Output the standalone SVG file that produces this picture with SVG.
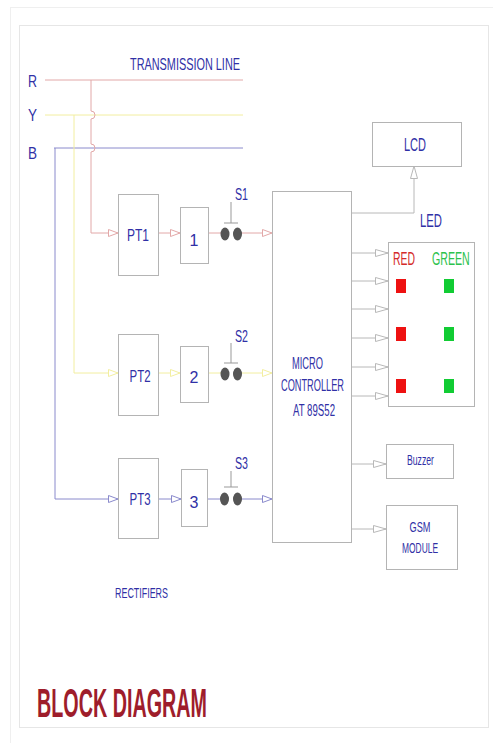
<svg xmlns="http://www.w3.org/2000/svg" width="493" height="743" viewBox="0 0 493 743">
<defs>
<style>
text{font-family:"Liberation Sans",Arial,sans-serif;fill:#3030a6}
.box{fill:#fff;stroke:#b4b4b4;stroke-width:1}
.r{stroke:#e2a8a8;fill:none;stroke-width:1}
.y{stroke:#f2eea0;fill:none;stroke-width:1}
.b{stroke:#8a8acc;fill:none;stroke-width:1}
.g{stroke:#b8b8b8;fill:none;stroke-width:1}
.dot{fill:#555}
.sw{stroke:#999;fill:none;stroke-width:1}
</style>
<marker id="ar" markerUnits="userSpaceOnUse" markerWidth="12" markerHeight="9" refX="10" refY="4" orient="auto"><path d="M0.5,0.5 L10,4 L0.5,7.5 Z" fill="#fff" stroke="#e2a8a8"/></marker>
<marker id="ay" markerUnits="userSpaceOnUse" markerWidth="12" markerHeight="9" refX="10" refY="4" orient="auto"><path d="M0.5,0.5 L10,4 L0.5,7.5 Z" fill="#fff" stroke="#f2eea0"/></marker>
<marker id="ab" markerUnits="userSpaceOnUse" markerWidth="12" markerHeight="9" refX="10" refY="4" orient="auto"><path d="M0.5,0.5 L10,4 L0.5,7.5 Z" fill="#fff" stroke="#8a8acc"/></marker>
<marker id="ag" markerUnits="userSpaceOnUse" markerWidth="14" markerHeight="9" refX="13" refY="4" orient="auto"><path d="M0.5,0.5 L13,4 L0.5,7.5 Z" fill="#fff" stroke="#b8b8b8"/></marker>
</defs>
<rect width="493" height="743" fill="#fff"/>
<rect x="10.5" y="7.5" width="500" height="760" fill="none" stroke="#efefef"/>
<rect x="19.5" y="25.5" width="469" height="702" fill="#fff" stroke="#e6e6e6"/>

<g id="labels">
<text x="130" y="70" font-size="17" textLength="110" lengthAdjust="spacingAndGlyphs">TRANSMISSION LINE</text>
<text x="28" y="87" font-size="16" textLength="9" lengthAdjust="spacingAndGlyphs">R</text>
<text x="28" y="121" font-size="16" textLength="9" lengthAdjust="spacingAndGlyphs">Y</text>
<text x="28" y="159" font-size="16" textLength="9" lengthAdjust="spacingAndGlyphs">B</text>
<text x="115" y="598" font-size="14" textLength="53" lengthAdjust="spacingAndGlyphs">RECTIFIERS</text>
<text x="37" y="717" font-size="40" font-weight="bold" style="fill:#9e1d2b" textLength="170" lengthAdjust="spacingAndGlyphs">BLOCK DIAGRAM</text>
<text x="420" y="227" font-size="19" textLength="22" lengthAdjust="spacingAndGlyphs">LED</text>
</g>

<g id="connectors">
<path class="r" d="M45,80 H243"/>
<path class="y" d="M45,115 H243"/>
<path class="b" d="M54,148 H243"/>
<path class="r" d="M91,80 V111 A4,4 0 0 1 91,119 V144 A4,4 0 0 1 91,152 V233 H118" marker-end="url(#ar)"/>
<path class="y" d="M74,115 V373 H118" marker-end="url(#ay)"/>
<path class="b" d="M55,148 V499 H118" marker-end="url(#ab)"/>
<path class="r" d="M158,233 H180" marker-end="url(#ar)"/>
<path class="y" d="M158,373 H180" marker-end="url(#ay)"/>
<path class="b" d="M158,499 H181" marker-end="url(#ab)"/>
<path class="r" d="M208,233 H221"/>
<path class="y" d="M208,373 H221"/>
<path class="b" d="M207,499 H221"/>
<path class="r" d="M241,233 H272" marker-end="url(#ar)"/>
<path class="y" d="M241,373 H272" marker-end="url(#ay)"/>
<path class="b" d="M241,499 H272" marker-end="url(#ab)"/>
<path class="g" d="M351,213 H414 V166" marker-end="url(#ag)"/>
<path class="g" d="M351,253 H388" marker-end="url(#ag)"/>
<path class="g" d="M351,281 H388" marker-end="url(#ag)"/>
<path class="g" d="M351,309 H388" marker-end="url(#ag)"/>
<path class="g" d="M351,338 H388" marker-end="url(#ag)"/>
<path class="g" d="M351,367 H388" marker-end="url(#ag)"/>
<path class="g" d="M351,396 H388" marker-end="url(#ag)"/>
<path class="g" d="M351,464 H386" marker-end="url(#ag)"/>
<path class="g" d="M351,529 H386" marker-end="url(#ag)"/>
</g>

<g id="pt1"><rect class="box" x="118.5" y="194.5" width="40" height="81"/><text x="138" y="241" font-size="16" text-anchor="middle" textLength="22" lengthAdjust="spacingAndGlyphs">PT1</text></g>
<g id="pt2"><rect class="box" x="118.5" y="334.5" width="40" height="81"/><text x="140" y="382" font-size="16" text-anchor="middle" textLength="21" lengthAdjust="spacingAndGlyphs">PT2</text></g>
<g id="pt3"><rect class="box" x="118.5" y="458.5" width="40" height="80"/><text x="140" y="505" font-size="16" text-anchor="middle" textLength="21" lengthAdjust="spacingAndGlyphs">PT3</text></g>

<g id="rect1"><rect class="box" x="180.5" y="207.5" width="28" height="56"/><text x="194" y="246" font-size="16" text-anchor="middle">1</text></g>
<g id="rect2"><rect class="box" x="180.5" y="346.5" width="28" height="56"/><text x="194" y="383" font-size="16" text-anchor="middle">2</text></g>
<g id="rect3"><rect class="box" x="181.5" y="469.5" width="26" height="57"/><text x="194" y="508" font-size="16" text-anchor="middle">3</text></g>

<g id="s1"><path class="sw" d="M231,202 V223 M224,223 H238"/><ellipse class="dot" cx="225" cy="234" rx="4.5" ry="6.5"/><ellipse class="dot" cx="237.5" cy="234" rx="4.5" ry="6.5"/><text x="235" y="200" font-size="16" textLength="13" lengthAdjust="spacingAndGlyphs">S1</text></g>
<g id="s2"><path class="sw" d="M231,343 V363 M224,363 H238"/><ellipse class="dot" cx="225" cy="374" rx="4.5" ry="6.5"/><ellipse class="dot" cx="237.5" cy="374" rx="4.5" ry="6.5"/><text x="235" y="342" font-size="16" textLength="13" lengthAdjust="spacingAndGlyphs">S2</text></g>
<g id="s3"><path class="sw" d="M231,471 V487 M224,487 H238"/><ellipse class="dot" cx="224.5" cy="499" rx="4.5" ry="6.5"/><ellipse class="dot" cx="237.5" cy="499" rx="4.5" ry="6.5"/><text x="235" y="469" font-size="16" textLength="13" lengthAdjust="spacingAndGlyphs">S3</text></g>

<g id="mcu"><rect class="box" x="272.5" y="191.5" width="79" height="351"/>
<text x="307.5" y="369" font-size="16" text-anchor="middle" textLength="31" lengthAdjust="spacingAndGlyphs">MICRO</text>
<text x="312.5" y="391" font-size="16" text-anchor="middle" textLength="63" lengthAdjust="spacingAndGlyphs">CONTROLLER</text>
<text x="314" y="416" font-size="16" text-anchor="middle" textLength="42" lengthAdjust="spacingAndGlyphs">AT 89S52</text></g>

<g id="lcd"><rect class="box" x="372.5" y="122.5" width="89" height="44"/><text x="415" y="151" font-size="19" text-anchor="middle" textLength="22" lengthAdjust="spacingAndGlyphs">LCD</text></g>

<g id="led"><rect class="box" x="388.5" y="242.5" width="86" height="164"/>
<text x="393" y="265" font-size="19" style="fill:#d42a2a" textLength="22" lengthAdjust="spacingAndGlyphs">RED</text>
<text transform="translate(432,265) scale(0.56,1)" font-size="19" style="fill:#2cc24c">GREEN</text>
<rect x="396" y="279" width="10" height="14" fill="#ee1111"/><rect x="444" y="279" width="10" height="14" fill="#11cc33"/>
<rect x="396" y="327" width="10" height="14" fill="#ee1111"/><rect x="444" y="327" width="10" height="14" fill="#11cc33"/>
<rect x="396" y="379" width="10" height="14" fill="#ee1111"/><rect x="444" y="379" width="10" height="14" fill="#11cc33"/></g>

<g id="buzzer"><rect class="box" x="386.5" y="444.5" width="67" height="34"/><text x="420.5" y="465" font-size="15" text-anchor="middle" textLength="27" lengthAdjust="spacingAndGlyphs">Buzzer</text></g>
<g id="gsm"><rect class="box" x="386.5" y="505.5" width="71" height="64"/><text x="420" y="532" font-size="15" text-anchor="middle" textLength="21" lengthAdjust="spacingAndGlyphs">GSM</text><text x="420" y="553" font-size="15" text-anchor="middle" textLength="36" lengthAdjust="spacingAndGlyphs">MODULE</text></g>
</svg>
